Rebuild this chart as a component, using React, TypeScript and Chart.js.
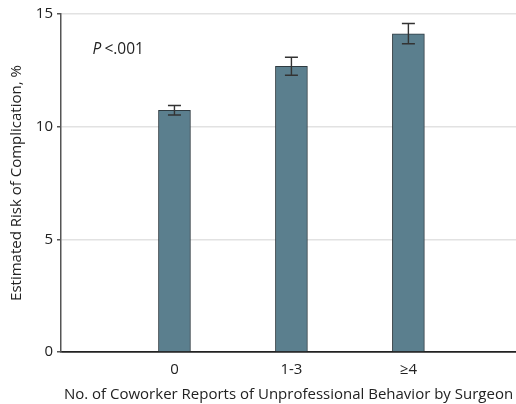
import React, { useEffect, useRef } from "react";
import { Chart, registerables } from "chart.js";

Chart.register(...registerables);

const categories = ["0", "1-3", "≥4"];
const riskValues = [10.72, 12.68, 14.12];
const errLower = [10.52, 12.28, 13.68];
const errUpper = [10.94, 13.08, 14.58];
const yTicks = [0, 5, 10, 15];
const annotationText = { italic: "P", rest: " <.001" };
const annotationPos = { x: -0.7, y: 13.4 };

const FONT = "'Open Sans', 'Noto Sans', sans-serif";

const errorBarPlugin = {
  id: "errorBars",
  afterDatasetsDraw(chart: any) {
    const { ctx, scales } = chart;
    const xs = scales.x;
    const ys = scales.y;
    ctx.save();
    ctx.strokeStyle = "#333333";
    ctx.lineWidth = 1.4;
    for (let i = 0; i < categories.length; i++) {
      const x = xs.getPixelForValue(i);
      const yl = ys.getPixelForValue(errLower[i]);
      const yu = ys.getPixelForValue(errUpper[i]);
      const half = 6.5;
      ctx.beginPath();
      ctx.moveTo(x, yl);
      ctx.lineTo(x, yu);
      ctx.moveTo(x - half, yl);
      ctx.lineTo(x + half, yl);
      ctx.moveTo(x - half, yu);
      ctx.lineTo(x + half, yu);
      ctx.stroke();
    }
    const ax = xs.getPixelForValue(annotationPos.x);
    const ay = ys.getPixelForValue(annotationPos.y);
    ctx.fillStyle = "#222222";
    ctx.textBaseline = "middle";
    ctx.textAlign = "left";
    ctx.font = `italic 15.5px ${FONT}`;
    ctx.fillText(annotationText.italic, ax, ay);
    const w = ctx.measureText(annotationText.italic).width;
    ctx.font = `15.5px ${FONT}`;
    ctx.fillText(annotationText.rest, ax + w - 1, ay);
    ctx.restore();
  },
};

export default function App() {
  const ref = useRef<HTMLCanvasElement>(null);
  useEffect(() => {
    document.body.style.margin = "0";
    const c = ref.current!;
    const chart = new Chart(c, {
      type: "bar",
      data: {
        datasets: [
          {
            data: riskValues.map((v, i) => ({ x: i, y: v })),
            backgroundColor: "#5b7f8e",
            borderColor: "#2e3a40",
            borderWidth: 1,
            barThickness: 32,
          } as any,
        ],
      },
      options: {
        animation: false,
        responsive: false,
        devicePixelRatio: 1,
        layout: { padding: { top: 14, right: 0, left: 0, bottom: 0 } },
        plugins: { legend: { display: false }, tooltip: { enabled: false } },
        scales: {
          x: {
            type: "linear",
            offset: false,
            min: -0.97,
            max: 2.92,
            afterBuildTicks: (s: any) => {
              s.ticks = categories.map((_, i) => ({ value: i }));
            },
            afterFit: (s: any) => {
              s.height = 52;
            },
            ticks: {
              callback: (v: any) => categories[v as number] ?? "",
              color: "#222222",
              font: { family: FONT, size: 15 },
              padding: 9,
            },
            grid: { display: false, drawTicks: false },
            border: { display: true, color: "#222222", width: 1.5 },
            title: {
              display: true,
              text: "No. of Coworker Reports of Unprofessional Behavior by Surgeon",
              color: "#222222",
              font: { family: FONT, size: 15 },
              padding: { top: 2, bottom: 0 },
            },
          },
          y: {
            min: 0,
            max: 15,
            afterBuildTicks: (s: any) => {
              s.ticks = yTicks.map((v) => ({ value: v }));
            },
            afterFit: (s: any) => {
              s.width = 61;
            },
            ticks: {
              color: "#222222",
              font: { family: FONT, size: 15 },
              padding: 4,
            },
            grid: {
              color: (ctx: any) => (ctx.tick && ctx.tick.value === 0 ? "#222222" : "#e2e2e2"),
              lineWidth: 1.5,
              tickColor: "#555555",
              tickLength: 4,
            },
            border: { display: true, color: "#555555", width: 1.5 },
            title: {
              display: true,
              text: "Estimated Risk of Complication, %",
              color: "#222222",
              font: { family: FONT, size: 15 },
              padding: { top: 8, bottom: 0 },
            },
          },
        },
      },
      plugins: [errorBarPlugin],
    });
    return () => chart.destroy();
  }, []);
  return <canvas ref={ref} width={516} height={404} style={{ display: "block" }} />;
}
